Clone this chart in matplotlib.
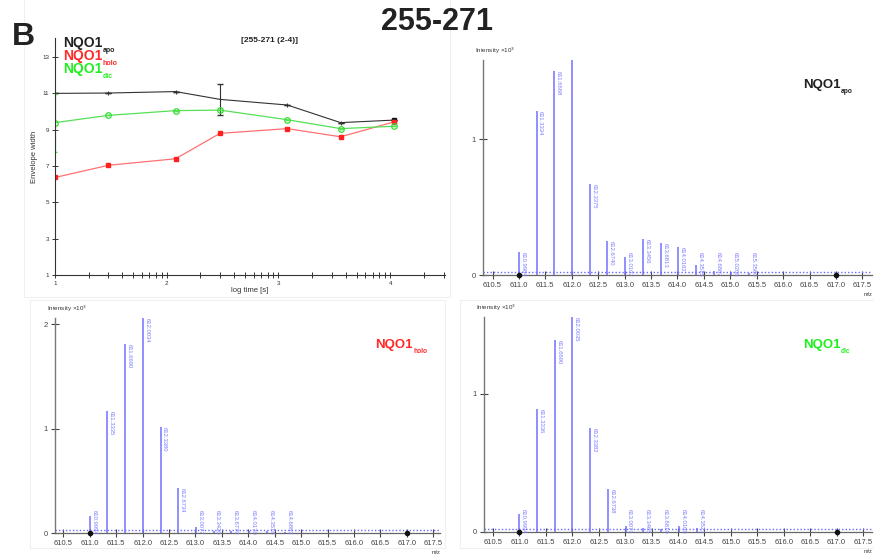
import numpy as np
import matplotlib.pyplot as plt
from matplotlib.patches import Rectangle
from matplotlib.transforms import offset_copy

plt.rcParams['font.family'] = ['Liberation Sans', 'DejaVu Sans']

# envelope width vs log10 time
log_t = [1.0, 1.477, 2.079, 2.477, 3.079, 3.556, 4.033]
width_apo = [11.0, 11.02, 11.1, 10.67, 10.36, 9.39, 9.53]
width_holo = [6.37, 7.04, 7.40, 8.80, 9.06, 8.61, 9.43]
width_dic = [9.39, 9.79, 10.05, 10.08, 9.55, 9.06, 9.19]
err_apo = [0, 0, 0, 0.84, 0, 0, 0]
err_dic = [1.6, 0, 0, 0, 0, 0, 0]

# isotope peaks (m/z, intensity)
mz_apo = [610.9984, 611.3334, 611.6668, 612.0002, 612.3375, 612.6740, 613.0107,
          613.3456, 613.6813, 614.0162, 614.3515, 614.6867, 615.0208, 615.3560]
int_apo = [0.172, 1.211, 1.506, 1.59, 0.671, 0.248, 0.135, 0.263, 0.238, 0.206,
           0.074, 0.03, 0.02, 0.012]
mz_holo = [610.9994, 611.3335, 611.6690, 612.0034, 612.3380, 612.6734, 613.0077,
           613.3420, 613.6779, 614.0170, 614.3516, 614.6883]
int_holo = [0.16, 1.17, 1.81, 2.06, 1.02, 0.43, 0.06, 0.02, 0.02, 0.015, 0.015, 0.01]
mz_dic = [610.9994, 611.3336, 611.6690, 612.0035, 612.3382, 612.6738, 613.0071,
          613.3465, 613.6819, 614.0169, 614.3523]
int_dic = [0.13, 0.89, 1.39, 1.555, 0.754, 0.313, 0.04, 0.03, 0.02, 0.045, 0.03]

W, H = 874, 554
fig = plt.figure(figsize=(W / 100, H / 100), dpi=100)


def rect(l, t, r, b):
    return [l / W, 1 - b / H, (r - l) / W, (b - t) / H]


# faint panel frames
for l, t, r, b in [(24, -5, 450, 297), (30, 300, 445, 548), (460, 300, 880, 548)]:
    fig.patches.append(Rectangle((l / W, 1 - b / H), (r - l) / W, (b - t) / H,
                                 transform=fig.transFigure, fill=False,
                                 edgecolor='#f0f0f0', lw=0.8))

fig.text(437, H - 22, '255-271', transform=None, ha='center', va='center',
         fontsize=22, fontweight='bold', color='#222222')
fig.text(12, H - 37, 'B', transform=None, ha='left', va='center',
         fontsize=23, fontweight='bold', color='#222222')


def nqo1(ax, x, y, sub, color, size, coords='axes fraction'):
    main = ax.annotate('NQO1', xy=(x, y), xycoords=coords, ha='left',
                       va='baseline', fontsize=size, fontweight='bold',
                       color=color, annotation_clip=False)
    ax.annotate(sub, xy=(1, 0), xycoords=main, xytext=(0.5, -1.5),
                textcoords='offset points', ha='left', va='baseline',
                fontsize=size * 0.5, fontweight='bold', color=color)


# --- envelope width panel ---
ax = fig.add_axes(rect(55, 38, 445, 275))
ax.plot(log_t, width_apo, color='#333333', lw=0.8, marker='|', ms=3, mew=0.8)
ax.plot(log_t[-1], width_apo[-1], 's', color='#111111', ms=3)
ax.errorbar(log_t, width_apo, yerr=err_apo, fmt='none', ecolor='#333333',
            elinewidth=0.8, capsize=2.5)
ax.plot(log_t, width_holo, color='#ff7070', lw=0.9, marker='s', ms=3.3,
        mfc='#ff2020', mec='#ff2020')
ax.plot(log_t, width_dic, color='#55e055', lw=0.9, marker='o', ms=4,
        mfc='none', mec='#33dd33', mew=0.9)
ax.errorbar(log_t, width_dic, yerr=err_dic, fmt='none', ecolor='#55e055',
            elinewidth=0.9, capsize=1.5)
ax.set_xlim(1, 4.49)
ax.set_ylim(1, 14.05)
ax.set_yticks([1, 3, 5, 7, 9, 11, 13])
ax.set_xticks([1, 2, 3, 4])
minor = [d + np.log10(k) for d in range(1, 5) for k in range(2, 10)]
ax.set_xticks([m for m in minor if m <= 4.49], minor=True)
ax.tick_params(axis='both', which='both', direction='inout', length=5,
               width=0.7, colors='#333333', labelsize=4.5, pad=1.5)
for s in ('top', 'right'):
    ax.spines[s].set_visible(False)
for s in ('left', 'bottom'):
    ax.spines[s].set_color('#333333')
    ax.spines[s].set_linewidth(0.8)
ax.set_xlabel('log time [s]', fontsize=5.5, labelpad=1, color='#333333')
ax.set_ylabel('Envelope width', fontsize=5.5, labelpad=3, color='#333333')
ax.text(0.55, 1 - 3 / 237, '[255-271 (2-4)]', transform=ax.transAxes,
        ha='center', va='center', fontsize=6, fontweight='bold',
        color='#222222')
nqo1(ax, 0.02, 1 - 9 / 237, 'apo', '#222222', 10)
nqo1(ax, 0.02, 1 - 22 / 237, 'holo', '#ff2a2a', 10)
nqo1(ax, 0.02, 1 - 35 / 237, 'dic', '#22ee22', 10)


# --- isotope spectra ---
def spectrum(box, xlim, ymax, yticks, mz, inten, sub, color, name_xy):
    ax = fig.add_axes(rect(*box))
    ax.set_xlim(*xlim)
    ax.set_ylim(0, ymax)
    ax.vlines(mz, 0, inten, color='#7272ff', lw=1.1)
    px_per_unit = (box[3] - box[1]) / ymax
    for m, h in zip(mz, inten):
        top = max(h, 23 / px_per_unit)
        ax.annotate(f'{m:.4f}', xy=(m, top), xytext=(1.2, 0),
                    textcoords='offset points', rotation=-90, ha='left',
                    va='top', fontsize=4.2, color='#7a7aff')
    base = offset_copy(ax.get_yaxis_transform(), fig=fig, y=3, units='dots')
    ax.plot([0, 1], [0, 0], transform=base, color='#6a6aff', lw=1.0,
            ls=(0, (1, 1.5)))
    ax.plot([611.0, 617.0], [0, 0], 'o', color='#111111', ms=3, clip_on=False,
            zorder=5)
    ticks = np.arange(610.5, 617.6, 0.5)
    ax.set_xticks(ticks)
    ax.set_xticklabels([f'{v:.1f}' for v in ticks])
    ax.set_yticks(yticks)
    ax.tick_params(axis='both', direction='inout', length=6, width=0.8,
                   colors='#444444', labelsize=5.5, pad=2)
    for s in ('top', 'right'):
        ax.spines[s].set_visible(False)
    ax.spines['left'].set_color('#777777')
    ax.spines['left'].set_linewidth(1.0)
    ax.spines['bottom'].set_color('#666666')
    ax.spines['bottom'].set_linewidth(0.9)
    ax.annotate('Intensity ×10$^3$', xy=(0, 1), xycoords='axes fraction',
                xytext=(-6, 3), textcoords='offset points', ha='left',
                va='bottom', fontsize=4.5, color='#333333')
    ax.annotate('m/z', xy=(1, 0), xycoords='axes fraction', xytext=(-6, -12.5),
                textcoords='offset points', ha='left', va='top', fontsize=4,
                color='#333333', annotation_clip=False)
    nqo1(ax, name_xy[0], name_xy[1], sub, color, 9.5, coords='figure pixels')
    return ax


spectrum((483, 60, 872, 275), (610.32, 617.68), 1.585, [0, 1],
         mz_apo, int_apo, 'apo', '#222222', (803, H - 88))
spectrum((55, 318, 440, 533), (610.34, 617.63), 2.06, [0, 1, 2],
         mz_holo, int_holo, 'holo', '#ff2a2a', (375, H - 348))
spectrum((484, 317, 872, 532), (610.33, 617.67), 1.555, [0, 1],
         mz_dic, int_dic, 'dic', '#22ee22', (803, H - 348))

fig.savefig('out.png', dpi=100)
